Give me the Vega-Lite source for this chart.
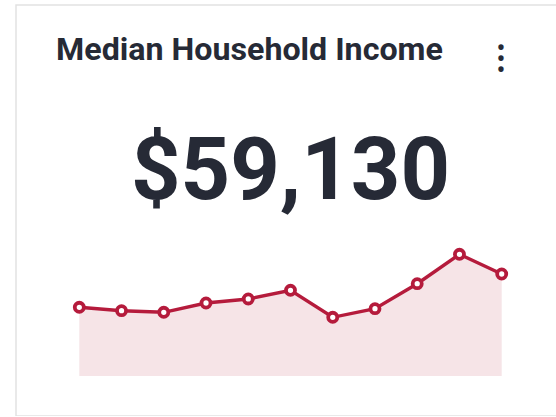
{
  "$schema": "https://vega.github.io/schema/vega-lite/v6.json",
  "autosize": {"type": "none"},
  "padding": {"left": 16, "top": 5, "right": 0, "bottom": 0},
  "width": 600,
  "height": 411,
  "background": "white",
  "config": {"view": {"stroke": "#e2e2e2", "strokeWidth": 1.5}},
  "datasets": {
    "income": [
      {"year": 2012, "income": 39830},
      {"year": 2013, "income": 37860},
      {"year": 2014, "income": 36930},
      {"year": 2015, "income": 42320},
      {"year": 2016, "income": 44640},
      {"year": 2017, "income": 49680},
      {"year": 2018, "income": 34030},
      {"year": 2019, "income": 39020},
      {"year": 2020, "income": 53510},
      {"year": 2021, "income": 70550},
      {"year": 2022, "income": 59130}
    ],
    "title": [{"label": "Median Household Income"}],
    "value": [{"label": "$59,130"}],
    "menu": [{"label": "•\n•\n•"}]
  },
  "layer": [
    {
      "data": {"name": "income"},
      "mark": {"type": "area", "color": "#f6e4e7"},
      "encoding": {
        "x": {"field": "year", "type": "quantitative", "axis": null, "scale": {"domain": [2012, 2022], "range": [63.3, 485.7], "nice": false, "zero": false}},
        "y": {"field": "income", "type": "quantitative", "axis": null, "scale": {"domain": [0, 215070], "range": [371, 0], "nice": false}}
      }
    },
    {
      "data": {"name": "income"},
      "mark": {"type": "line", "color": "#b51b3c", "strokeWidth": 3.4},
      "encoding": {
        "x": {"field": "year", "type": "quantitative"},
        "y": {"field": "income", "type": "quantitative"}
      }
    },
    {
      "data": {"name": "income"},
      "mark": {"type": "point", "shape": "circle", "filled": false, "fill": "white", "fillOpacity": 1, "stroke": "#b51b3c", "strokeWidth": 3.8, "size": 82, "opacity": 1},
      "encoding": {
        "x": {"field": "year", "type": "quantitative"},
        "y": {"field": "income", "type": "quantitative"}
      }
    },
    {
      "data": {"name": "title"},
      "mark": {"type": "text", "align": "left", "baseline": "alphabetic", "font": "Roboto", "fontWeight": "bold", "fontSize": 32.2, "color": "#262a36"},
      "encoding": {
        "text": {"field": "label"},
        "x": {"datum": 2011.45, "type": "quantitative"},
        "y": {"datum": 183185, "type": "quantitative"}
      }
    },
    {
      "data": {"name": "value"},
      "mark": {"type": "text", "align": "center", "baseline": "alphabetic", "font": "Roboto", "fontWeight": "bold", "fontSize": 86.5, "color": "#262a36"},
      "encoding": {
        "text": {"field": "label"},
        "x": {"datum": 2017, "type": "quantitative"},
        "y": {"datum": 102600, "type": "quantitative"}
      }
    },
    {
      "data": {"name": "menu"},
      "mark": {"type": "text", "align": "center", "baseline": "middle", "lineBreak": "\n", "lineHeight": 11, "font": "Roboto", "fontWeight": "bold", "fontSize": 23, "color": "#262a36"},
      "encoding": {
        "text": {"field": "label"},
        "x": {"datum": 2021.98, "type": "quantitative"},
        "y": {"datum": 189600, "type": "quantitative"}
      }
    }
  ]
}
